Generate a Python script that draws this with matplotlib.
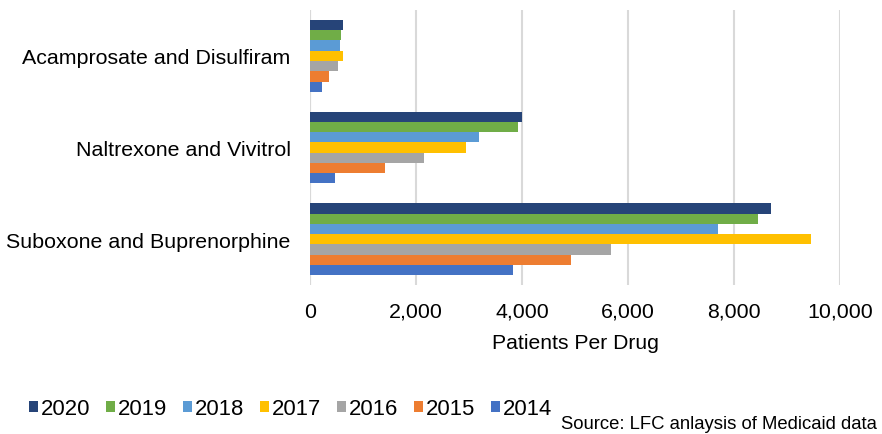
import matplotlib
matplotlib.use("Agg")
import matplotlib.pyplot as plt
import numpy as np

plt.rcParams['font.family'] = ['Liberation Sans', 'DejaVu Sans']

categories = ["Suboxone and Buprenorphine", "Naltrexone and Vivitrol", "Acamprosate and Disulfiram"]
years = ["2014", "2015", "2016", "2017", "2018", "2019", "2020"]
# values per year, in category order above
v2014 = [3834, 478, 233]
v2015 = [4925, 1409, 365]
v2016 = [5674, 2157, 522]
v2017 = [9447, 2950, 623]
v2018 = [7696, 3195, 572]
v2019 = [8451, 3925, 591]
v2020 = [8692, 4000, 623]
series = [v2014, v2015, v2016, v2017, v2018, v2019, v2020]
colors = ["#4472C4", "#ED7D31", "#A5A5A5", "#FFC000", "#5B9BD5", "#70AD47", "#264478"]
xticks = [0, 2000, 4000, 6000, 8000, 10000]

fig = plt.figure(figsize=(8.82, 4.35), dpi=100)
ax = fig.add_axes([310/882, 1-286/435, 530/882, 275/435])

pos = np.arange(len(categories))
h = 0.112
handles = []
for i, (vals, c, yr) in enumerate(zip(series, colors, years)):
    b = ax.barh(pos + (i - 3) * h, vals, height=h, color=c, label=yr, zorder=3)
    handles.append(b)

ax.set_xlim(0, 10000)
ax.set_ylim(-0.5, 2.5)
ax.set_xticks(xticks)
ax.set_xticklabels([f"{t:,}" for t in xticks], fontsize=15.4)
ax.set_yticks(pos)
ax.set_yticklabels(categories, fontsize=15.4)
ax.tick_params(axis='y', length=0, pad=14)
ax.tick_params(axis='x', length=0, pad=12)
ax.grid(axis='x', color='#d9d9d9', linewidth=1.5, zorder=0)
for s in ax.spines.values():
    s.set_visible(False)
ax.axvline(0, color='#d9d9d9', linewidth=1.5, zorder=1)
ax.set_xlabel("Patients Per Drug", fontsize=15.2, labelpad=9)

leg = fig.legend(handles[::-1], years[::-1], loc='center left', bbox_to_anchor=(29/882, 1-410/435),
                 ncol=7, frameon=False, fontsize=15.9, handlelength=0.4, handleheight=0.4,
                 handletextpad=0.15, columnspacing=0.7, borderaxespad=0, borderpad=0)

fig.text(877/882, 1-425/435, "Source: LFC anlaysis of Medicaid data", ha='right', va='center', fontsize=13.3)

fig.savefig("out.png", dpi=100)
